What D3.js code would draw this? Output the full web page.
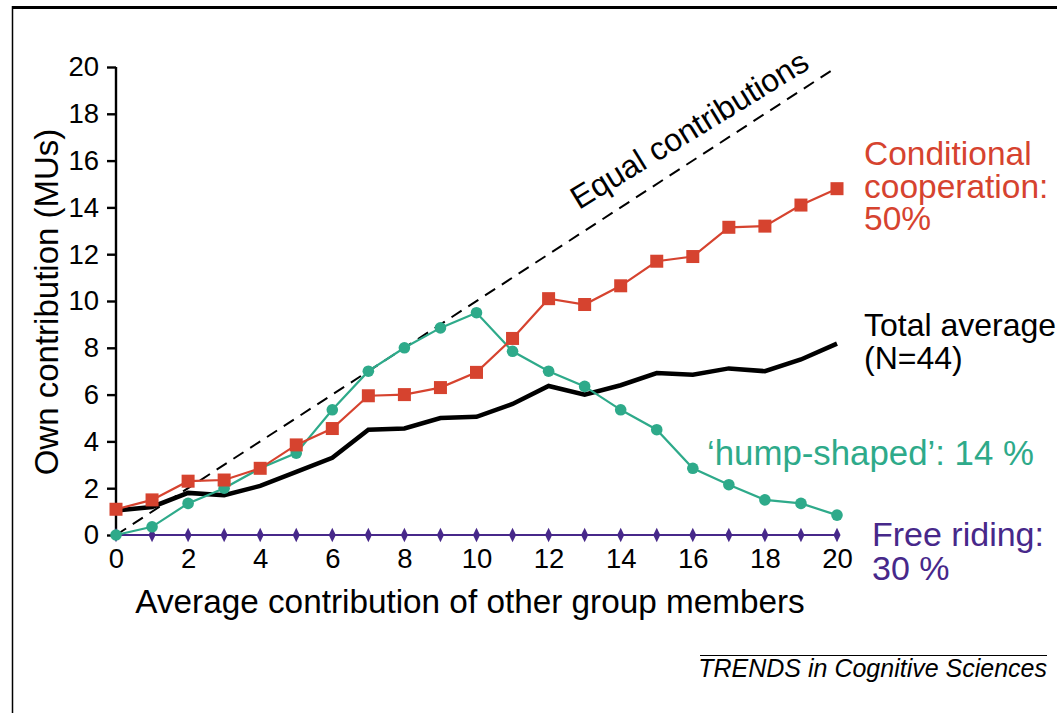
<!DOCTYPE html>
<html><head><meta charset="utf-8">
<script src="https://cdn.jsdelivr.net/npm/d3@7"></script>
<style>body{margin:0;background:#fff}svg{display:block}text{font-family:"Liberation Sans",Arial,sans-serif}</style>
</head><body><svg id="c" width="1057" height="713"></svg>
<script>
const xValues = d3.range(0, 21);
const conditional = [1.1,1.5,2.3,2.35,2.85,3.85,4.55,5.95,6.0,6.3,6.95,8.4,10.1,9.85,10.65,11.7,11.9,13.15,13.2,14.1,14.8];
const hump = [0,0.35,1.35,2.0,2.85,3.5,5.35,7.0,8.0,8.85,9.5,7.85,7.0,6.35,5.35,4.5,2.85,2.15,1.5,1.35,0.85];
const totalAvg = [1.05,1.2,1.8,1.7,2.1,2.7,3.3,4.5,4.55,5.0,5.05,5.6,6.37,6.0,6.4,6.92,6.85,7.12,7.0,7.5,8.18];
const freeRiding = [0,0,0,0,0,0,0,0,0,0,0,0,0,0,0,0,0,0,0,0,0];
const equalLine = [0,20];
const yTicks = [0,2,4,6,8,10,12,14,16,18,20];
const xTicks = [0,2,4,6,8,10,12,14,16,18,20];

const svg = d3.select("#c");
const x = d3.scaleLinear().domain([0,20]).range([116,837]);
const y = d3.scaleLinear().domain([0,20]).range([535,67]);
const FF = "Liberation Sans, Arial, sans-serif";

// frame
svg.append("line").attr("x1",12).attr("x2",1057).attr("y1",7.5).attr("y2",7.5).attr("stroke","#000").attr("stroke-width",3);
svg.append("line").attr("x1",12.5).attr("x2",12.5).attr("y1",6).attr("y2",713).attr("stroke","#000").attr("stroke-width",1.5);

// y axis
const yAxis = svg.append("g").attr("transform","translate(116,0)")
  .call(d3.axisLeft(y).tickValues(yTicks).tickSize(9).tickPadding(8).tickFormat(d3.format("d")));
yAxis.attr("font-size",null).attr("font-family",null);
yAxis.select(".domain").attr("stroke-width",2.4).attr("d","M-0,535V67");
yAxis.selectAll(".tick line").attr("stroke-width",2.4);
yAxis.selectAll(".tick text").attr("font-size",27.5).attr("fill","#000").attr("font-family",FF);

// x axis labels only
const xAxis = svg.append("g").attr("transform","translate(0,535)")
  .call(d3.axisBottom(x).tickValues(xTicks).tickSize(0).tickPadding(13).tickFormat(d3.format("d")));
xAxis.attr("font-size",null).attr("font-family",null);
xAxis.select(".domain").remove();
xAxis.selectAll(".tick text").attr("font-size",27.5).attr("fill","#000").attr("font-family",FF);

// equal contributions dashed line
svg.append("line").attr("x1",x(equalLine[0])).attr("y1",y(equalLine[0])).attr("x2",x(equalLine[1])).attr("y2",y(equalLine[1]))
  .attr("stroke","#000").attr("stroke-width",2).attr("stroke-dasharray","12,8");

const line = d3.line().x((d,i)=>x(xValues[i])).y(d=>y(d));

const cRed = "#d6432f", cTeal = "#2eaa8a", cPurple = "#47288a";

// free riding
svg.append("path").attr("d",line(freeRiding)).attr("fill","none").attr("stroke",cPurple).attr("stroke-width",2.2);
svg.append("g").selectAll("path").data(freeRiding).join("path")
  .attr("d",d3.symbol(d3.symbolDiamond,60)())
  .attr("transform",(d,i)=>`translate(${x(xValues[i])},${y(d)}) scale(0.85,1)`).attr("fill",cPurple);

// total average
svg.append("path").attr("d",line(totalAvg)).attr("fill","none").attr("stroke","#000").attr("stroke-width",4.5).attr("stroke-linejoin","miter");

// hump
svg.append("path").attr("d",line(hump)).attr("fill","none").attr("stroke",cTeal).attr("stroke-width",2.2);
svg.append("g").selectAll("circle").data(hump).join("circle")
  .attr("cx",(d,i)=>x(xValues[i])).attr("cy",d=>y(d)).attr("r",5.8).attr("fill",cTeal);

// conditional
svg.append("path").attr("d",line(conditional)).attr("fill","none").attr("stroke",cRed).attr("stroke-width",2.2);
svg.append("g").selectAll("rect").data(conditional).join("rect")
  .attr("x",(d,i)=>x(xValues[i])-6.5).attr("y",d=>y(d)-6.5).attr("width",13).attr("height",13).attr("fill",cRed);

// axis titles
svg.append("text").attr("x",470).attr("y",613).attr("text-anchor","middle").attr("font-size",33.3).text("Average contribution of other group members");
svg.append("text").attr("transform","translate(58,302) rotate(-90)").attr("text-anchor","middle").attr("font-size",33).text("Own contribution (MUs)");

// equal contributions label
const ang = Math.atan2(y(0)-y(20), x(20)-x(0))*180/Math.PI;
svg.append("text").attr("transform",`translate(579,210) rotate(${-ang+1.5})`).attr("font-size",32).text("Equal contributions");

// series labels
function lines(txt, xx, y0, dy, col, fs){
  const t = svg.append("text").attr("x",xx).attr("y",y0).attr("font-size",fs).attr("fill",col);
  txt.forEach((s,i)=>t.append("tspan").attr("x",xx).attr("dy",i?dy:0).text(s));
}
lines(["Conditional","cooperation:","50%"],864,165,32.5,cRed,33.5);
lines(["Total average","(N=44)"],864,336,33,"#000",32);
lines(["\u2018hump-shaped\u2019: 14 %"],707,465,0,cTeal,34.8);
lines(["Free riding:","30 %"],872,546,34,cPurple,34);

// footer
svg.append("line").attr("x1",700).attr("x2",1047).attr("y1",655.5).attr("y2",655.5).attr("stroke","#000").attr("stroke-width",1);
svg.append("text").attr("x",1047).attr("y",677).attr("text-anchor","end").attr("font-size",25).attr("font-style","italic").text("TRENDS in Cognitive Sciences");
</script></body></html>
